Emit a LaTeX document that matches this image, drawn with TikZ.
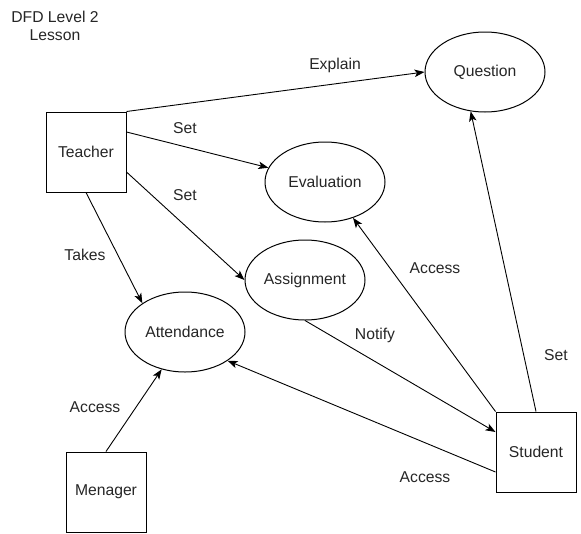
\documentclass[tikz,border=0pt]{standalone}
\usepackage{fontspec}
\setmainfont{Liberation Sans}
\usetikzlibrary{shapes.geometric,arrows.meta,calc}
\begin{document}
\begin{tikzpicture}[x=1pt,y=-1pt,
  every node/.style={font=\fontsize{15.7}{18.5}\selectfont, text=black!85},
  entity/.style={draw, line width=1pt, rectangle, minimum width=80pt, minimum height=80pt, inner sep=0pt},
  process/.style={draw, line width=1pt, ellipse, minimum width=120pt, minimum height=80pt, inner sep=0pt},
  arr/.style={draw, line width=0.9pt, -{Stealth[length=10pt,width=7.5pt,inset=2.5pt]}},
  lbl/.style={inner sep=1pt}]
\useasboundingbox (0,0) rectangle (581,533);
\fill[white] (0,0) rectangle (581,533);

\node[lbl, align=center] (title) at (55,26) {DFD Level 2\\Lesson};

\node[entity] (teacher) at (86,152) {Teacher};
\node[entity] (student) at (536,452) {Student};
\node[entity] (menager) at (106,492) {Menager};

\node[process] (question) at (485,72) {Question};
\node[process] (evaluation) at (325,182) {Evaluation};
\node[process] (assignment) at (305,280) {Assignment};
\node[process] (attendance) at (185,332) {Attendance};

\draw[arr] (teacher.north east) -- (question.west);
\draw[arr] ($(teacher.east)+(0,-20)$) -- (evaluation);
\draw[arr] ($(teacher.east)+(0,20)$) -- (assignment.west);
\draw[arr] (teacher.south) -- (attendance.146);
\draw[arr] (assignment.south) -- ($(student.west)+(0,-20)$);
\draw[arr] (student.north west) -- (evaluation.308);
\draw[arr] (student.north) -- (question.250);
\draw[arr] ($(student.west)+(0,20)$) -- (attendance.326);
\draw[arr] (menager.north) -- (attendance.238);

\node[lbl] (l1) at (335,65) {Explain};
\node[lbl] (l2) at (185,128) {Set};
\node[lbl] (l3) at (185,195) {Set};
\node[lbl] (l4) at (85,255) {Takes};
\node[lbl] (l5) at (435,268) {Access};
\node[lbl] (l6) at (375,335) {Notify};
\node[lbl] (l7) at (556,355) {Set};
\node[lbl] (l8) at (425,477) {Access};
\node[lbl] (l9) at (95,407) {Access};
\end{tikzpicture}
\end{document}
